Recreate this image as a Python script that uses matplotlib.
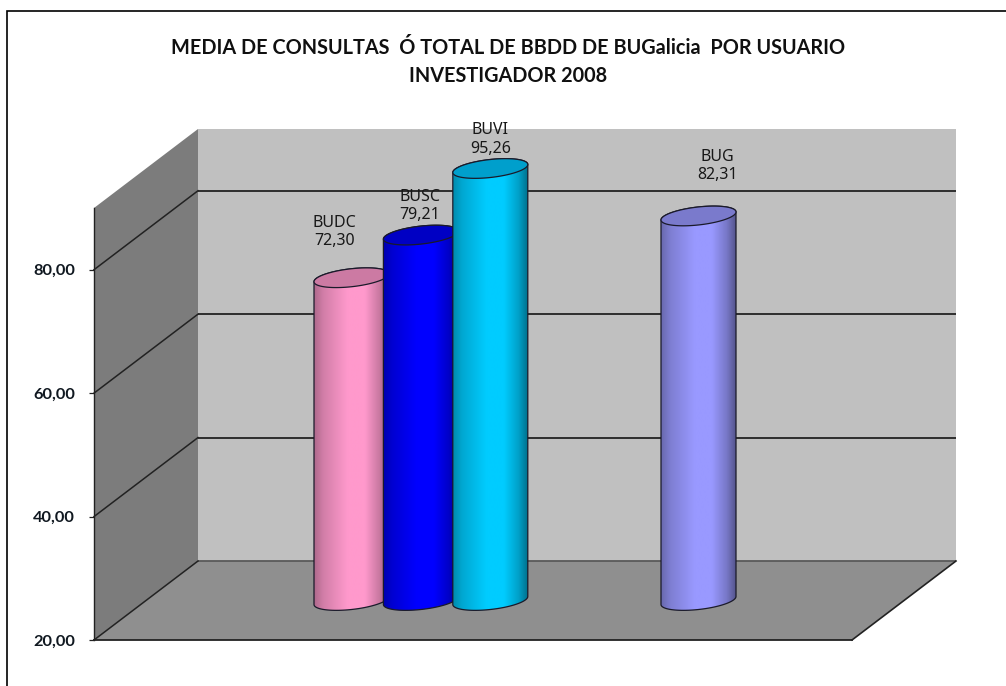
import numpy as np
import matplotlib
matplotlib.use("Agg")
import matplotlib.pyplot as plt
from matplotlib.patches import Polygon, Rectangle
from matplotlib.transforms import ScaledTranslation, IdentityTransform
from matplotlib.ticker import FuncFormatter, FixedLocator
from matplotlib.colors import to_rgb

# ---- data ----
title_text = "MEDIA DE CONSULTAS  Ó TOTAL DE BBDD DE BUGalicia  POR USUARIO\nINVESTIGADOR 2008"
categories = ["BUDC", "BUSC", "BUVI", "BUG"]
values = [72.30, 79.21, 95.26, 82.31]
slots = [0, 1, 2, 5]
y_ticks = [20, 40, 60, 80]

# ---- styles / layout ----
colors = ["#FF99CC", "#0000FF", "#00CCFF", "#9999FF"]
cap_colors = ["#CC7AA3", "#0000C4", "#009FCC", "#7A7ACC"]
label_offsets_px = [(-17, 46), (-1, 29), (0, 29), (19, 50)]
W, H = 1006, 686
DPI = 100
DEPTH = (104, 79)
YMIN, YMAX = 20, 90
X_LEFT, X_RIGHT, Y_BOT, Y_TOP = 94, 852, 640, 208
SLOT_PX = 69.4
FIRST_SLOT_PX = 299.5
BAR_W_PX = 75

fig = plt.figure(figsize=(W / DPI, H / DPI), dpi=DPI, facecolor="white")
ax = fig.add_axes([X_LEFT / W, 1 - Y_BOT / H, (X_RIGHT - X_LEFT) / W, (Y_BOT - Y_TOP) / H])
ax.set_facecolor("none")
ax.set_ylim(YMIN, YMAX)
ax.set_xlim((X_LEFT - FIRST_SLOT_PX) / SLOT_PX, (X_RIGHT - FIRST_SLOT_PX) / SLOT_PX)
xa, xb = ax.get_xlim()
px_y = (Y_BOT - Y_TOP) / (YMAX - YMIN)


def shifted(frac):
    return ax.transData + ScaledTranslation(DEPTH[0] * frac / DPI, DEPTH[1] * frac / DPI, fig.dpi_scale_trans)


front, mid, back = shifted(0), shifted(0.5), shifted(1)
wall_kw = dict(clip_on=False, linewidth=0)
fig.canvas.draw()
idt = IdentityTransform()


def disp(x, y, t):
    return t.transform((x, y))


# back wall, floor and left wall
ax.add_patch(Rectangle((xa, YMIN), xb - xa, YMAX - YMIN, transform=back, facecolor="#C0C0C0", zorder=1, **wall_kw))
ax.add_patch(Polygon([disp(xa, YMIN, front), disp(xb, YMIN, front), disp(xb, YMIN, back), disp(xa, YMIN, back)],
                     transform=idt, facecolor="#8F8F8F", zorder=1.5, **wall_kw))
ax.add_patch(Polygon([disp(xa, YMIN, front), disp(xa, YMAX, front), disp(xa, YMAX, back), disp(xa, YMIN, back)],
                     transform=idt, facecolor="#7C7C7C", zorder=1.5, **wall_kw))

line_c = "#222222"
for v in y_ticks:
    ax.plot([xa, xb], [v, v], transform=back, color=line_c if v > YMIN else "#5A5A5A",
            lw=1.3, clip_on=False, zorder=2, solid_capstyle="butt")
    p, q = disp(xa, v, front), disp(xa, v, back)
    ax.plot([p[0], q[0]], [p[1], q[1]], transform=idt, color=line_c, lw=1.1, clip_on=False, zorder=2)
p, q = disp(xb, YMIN, front), disp(xb, YMIN, back)
ax.plot([p[0], q[0]], [p[1], q[1]], transform=idt, color=line_c, lw=1.2, clip_on=False, zorder=2)

# axis
for s in ("top", "right"):
    ax.spines[s].set_visible(False)
for s, lw in (("left", 1.0), ("bottom", 1.3)):
    ax.spines[s].set_color(line_c)
    ax.spines[s].set_linewidth(lw)
    ax.spines[s].set_zorder(2.5)
ax.yaxis.set_major_locator(FixedLocator(y_ticks))
ax.yaxis.set_major_formatter(FuncFormatter(lambda v, _: f"{v:.2f}".replace(".", ",")))
ax.tick_params(axis="y", length=3.6, width=0.9, color=line_c, pad=10, labelsize=11.8)
for t in ax.get_yticklabels():
    t.set_family("Lato")
    t.set_fontweight("bold")
    t.set_color("#101820")
ax.set_xticks([])

# cylinders
half_w = BAR_W_PX / 2 / SLOT_PX
ell_b = 9 / px_y
ell_tilt = 4 / px_y
t_full = np.linspace(0, 2 * np.pi, 121)
t_half = np.linspace(0, np.pi, 61)
t_lower = np.linspace(np.pi, 2 * np.pi, 61)
shade = np.interp(np.linspace(0, 1, 256), [0, 0.12, 0.45, 0.68, 0.88, 1], [0.68, 0.82, 1.0, 1.0, 0.78, 0.55])

for i, (slot, value, col, cap, name) in enumerate(zip(slots, values, colors, cap_colors, categories)):
    z = 3 + i
    top = min(value, YMAX)
    body = np.column_stack([
        np.r_[slot + half_w * np.cos(t_lower), slot + half_w * np.cos(t_half)],
        np.r_[YMIN + ell_b * np.sin(t_lower) + ell_tilt * np.cos(t_lower),
              top + ell_b * np.sin(t_half) + ell_tilt * np.cos(t_half)],
    ])
    ax.add_patch(Polygon(body, closed=True, transform=mid, facecolor="none", edgecolor="#1A1A2A",
                         linewidth=0.9, clip_on=False, zorder=z + 0.2))
    grad = np.outer(shade, to_rgb(col)).reshape(1, 256, 3)
    im = ax.imshow(grad, extent=(slot - half_w, slot + half_w, YMIN - 3, top + 3), aspect="auto",
                   transform=mid, zorder=z + 0.1, interpolation="bilinear")
    clip = Polygon(body, closed=True, transform=mid, facecolor="none", edgecolor="none")
    ax.add_artist(clip)
    clip.set_visible(False)
    im.set_clip_path(clip)
    im.set_clip_box(fig.bbox)
    ax.add_patch(Polygon(np.column_stack([slot + half_w * np.cos(t_full),
                                          top + ell_b * np.sin(t_full) + ell_tilt * np.cos(t_full)]),
                         closed=True, transform=mid, facecolor=cap, edgecolor="#1A1A2A", linewidth=0.9,
                         clip_on=False, zorder=z + 0.3))
    ox, oy = label_offsets_px[i]
    ax.annotate(f"{name}\n{value:.2f}".replace(".", ","), xy=(slot, top), xycoords=mid,
                xytext=(ox * 72 / DPI, oy * 72 / DPI), textcoords="offset points", ha="center", va="center",
                family="Noto Sans", fontsize=11.5, linespacing=1.2, color="#181818", zorder=20,
                annotation_clip=False)

ax.set_xlim(xa, xb)
ax.set_ylim(YMIN, YMAX)

# frame: left and top edges only
fig.add_artist(Polygon([(7 / W, 0), (7 / W, 1 - 11 / H), (1, 1 - 11 / H)], closed=False,
                       transform=fig.transFigure, fill=False, edgecolor="black", linewidth=1.2))

fig.text(508 / W, 1 - 62 / H, title_text, ha="center", va="center", family="Lato", fontweight="bold",
         fontsize=14.3, linespacing=1.45, color="#101010")

fig.savefig("out.png", dpi=DPI)
